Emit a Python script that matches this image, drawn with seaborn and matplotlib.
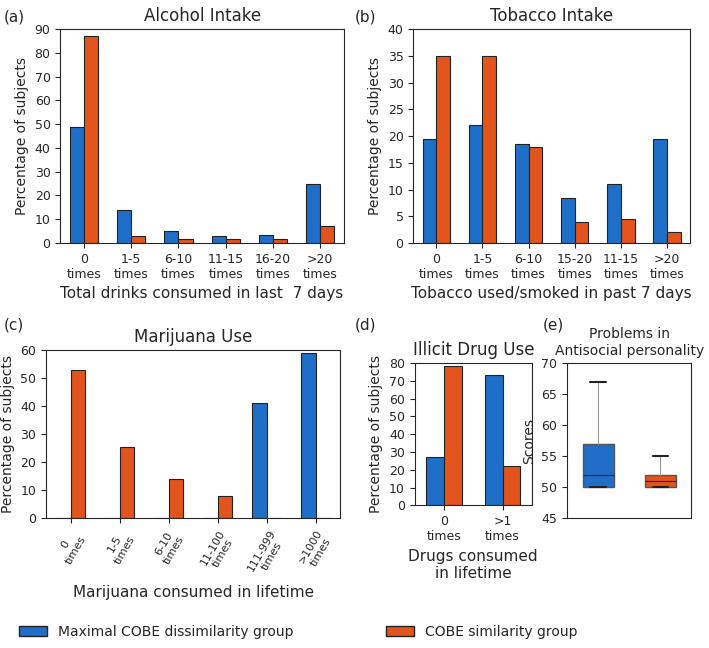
import matplotlib
matplotlib.use("Agg")
import matplotlib.pyplot as plt
import seaborn as sns
import pandas as pd
from matplotlib.patches import Patch

sns.set_style("ticks")
plt.rcParams['font.family'] = ['DejaVu Sans']

BLUE = "#1f6fc8"
ORANGE = "#e3531c"
groups = ["Maximal COBE dissimilarity group", "COBE similarity group"]

a_cats = ["0\ntimes", "1-5\ntimes", "6-10\ntimes", "11-15\ntimes", "16-20\ntimes", ">20\ntimes"]
a_blue = [49, 14, 5, 3, 3.5, 25]
a_orange = [87, 3, 1.5, 1.5, 1.5, 7]

b_cats = ["0\ntimes", "1-5\ntimes", "6-10\ntimes", "15-20\ntimes", "11-15\ntimes", ">20\ntimes"]
b_blue = [19.5, 22, 18.5, 8.5, 11, 19.5]
b_orange = [35, 35, 18, 4, 4.5, 2]

c_cats = ["0\ntimes", "1-5\ntimes", "6-10\ntimes", "11-100\ntimes", "111-999\ntimes", ">1000\ntimes"]
c_blue = [0, 0, 0, 0, 41, 59]
c_orange = [53, 25.5, 14, 8, 0, 0]

d_cats = ["0\ntimes", ">1\ntimes"]
d_blue = [27, 73]
d_orange = [78, 22]

e_whislo = [50, 50]
e_q1 = [50, 50]
e_med = [52, 51]
e_q3 = [57, 52]
e_whishi = [67, 55]


def bars(ax, cats, blue, orange, title, xlabel, ymax, ystep, rot=0, tfs=9):
    df = pd.DataFrame({"cat": cats * 2, "val": blue + orange,
                       "grp": [groups[0]] * len(cats) + [groups[1]] * len(cats)})
    sns.barplot(data=df, x="cat", y="val", hue="grp", palette=[BLUE, ORANGE], saturation=1,
                edgecolor="#222222", linewidth=0.8, width=0.6, ax=ax, legend=False)
    ax.set_ylim(0, ymax)
    ax.set_yticks(range(0, ymax + 1, ystep))
    ax.set_title(title, fontsize=12)
    ax.set_xlabel(xlabel, fontsize=11)
    ax.set_ylabel("Percentage of subjects", fontsize=10)
    ax.tick_params(axis="y", labelsize=9)
    ax.tick_params(axis="x", labelsize=tfs)
    for l in ax.get_xticklabels():
        l.set_rotation(rot)
    for s in ax.spines.values():
        s.set_visible(True)


fig = plt.figure(figsize=(7.09, 6.48), dpi=100)
axa = fig.add_axes([0.085, 0.625, 0.40, 0.33])
axb = fig.add_axes([0.583, 0.625, 0.39, 0.33])
axc = fig.add_axes([0.065, 0.20, 0.415, 0.26])
axd = fig.add_axes([0.585, 0.22, 0.165, 0.22])
axe = fig.add_axes([0.80, 0.20, 0.175, 0.24])

bars(axa, a_cats, a_blue, a_orange, "Alcohol Intake", "Total drinks consumed in last  7 days", 90, 10)
bars(axb, b_cats, b_blue, b_orange, "Tobacco Intake", "Tobacco used/smoked in past 7 days", 40, 5)
bars(axc, c_cats, c_blue, c_orange, "Marijuana Use", "Marijuana consumed in lifetime", 60, 10, rot=60, tfs=8)
bars(axd, d_cats, d_blue, d_orange, "Illicit Drug Use", "Drugs consumed\nin lifetime", 80, 10)

fig.text(0.005, 0.985, "(a)", fontsize=11, va="top")
fig.text(0.50, 0.985, "(b)", fontsize=11, va="top")
fig.text(0.005, 0.51, "(c)", fontsize=11, va="top")
fig.text(0.50, 0.51, "(d)", fontsize=11, va="top")
fig.text(0.765, 0.51, "(e)", fontsize=11, va="top")

stats = []
for i in range(2):
    stats.append(dict(whislo=e_whislo[i], q1=e_q1[i], med=e_med[i], q3=e_q3[i],
                      whishi=e_whishi[i], fliers=[]))
bp = axe.bxp(stats, positions=[0, 1], widths=0.5, patch_artist=True,
             medianprops=dict(color="#222222", linewidth=0.8),
             whiskerprops=dict(color="#999999", linewidth=0.8),
             capprops=dict(color="#222222", linewidth=1.5))
for p, c in zip(bp["boxes"], [BLUE, ORANGE]):
    p.set_facecolor(c)
    p.set_edgecolor("#555555")
axe.set_ylim(45, 70)
axe.set_xlim(-0.5, 1.5)
axe.set_xticks([])
axe.set_ylabel("Scores", fontsize=10)
axe.set_title("Problems in\nAntisocial personality", fontsize=10)
axe.tick_params(labelsize=9)

fig.legend(handles=[Patch(facecolor=BLUE, edgecolor="#222222", label=groups[0])],
           loc="center", bbox_to_anchor=(0.22, 0.025), frameon=False, fontsize=10)
fig.legend(handles=[Patch(facecolor=ORANGE, edgecolor="#222222", label=groups[1])],
           loc="center", bbox_to_anchor=(0.68, 0.025), frameon=False, fontsize=10)

fig.savefig("out.png", dpi=100)
